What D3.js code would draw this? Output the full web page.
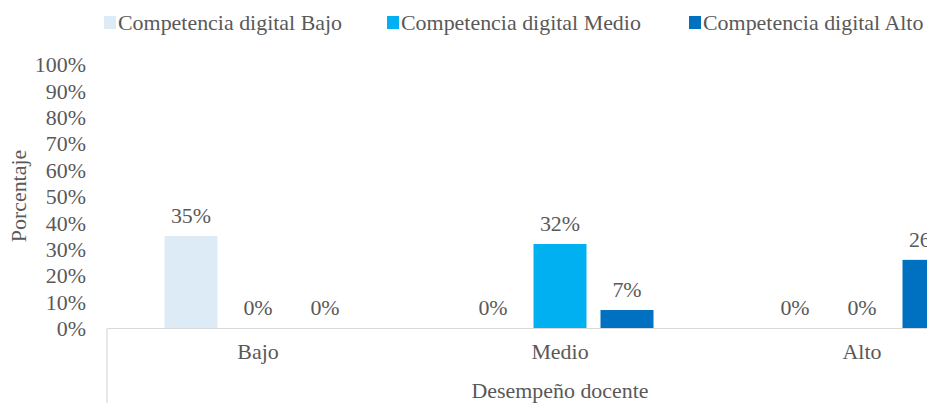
<!DOCTYPE html>
<html>
<head>
<meta charset="utf-8">
<script src="https://cdn.jsdelivr.net/npm/d3@7"></script>
<style>
  html, body { margin: 0; padding: 0; background: #fff; overflow: hidden; }
  svg text { font-family: "Liberation Serif", "DejaVu Serif", serif; }
</style>
</head>
<body>
<svg id="chart" width="927" height="403"></svg>
<script>
// Performance levels (x-axis categories)
const categories = ["Bajo", "Medio", "Alto"];
// Digital competence series
const seriesNames = ["Competencia digital Bajo", "Competencia digital Medio", "Competencia digital Alto"];
const seriesColors = ["#DDEBF7", "#00B0F0", "#0070C0"];
// Percentages per series, indexed by category
const valuesBajo = [35, 0, 0];
const valuesMedio = [0, 32, 0];
const valuesAlto = [0, 7, 26];
const yTicks = [0, 10, 20, 30, 40, 50, 60, 70, 80, 90, 100];

const seriesValues = [valuesBajo, valuesMedio, valuesAlto];
const textColor = "#595959";
const fontSize = 20.5;
const stretch = 1.07;   // slightly wide type, as in the original export
const serif = "'Liberation Serif', 'DejaVu Serif', serif";

const svg = d3.select("#chart");

// Places a text element at (x, y) with the horizontal stretch applied
function label(parent, x, y, str, anchor) {
  return parent.append("text")
    .attr("transform", `translate(${x},${y}) scale(${stretch},1)`)
    .attr("dy", "0.35em")
    .attr("text-anchor", anchor || "middle")
    .attr("fill", textColor)
    .attr("font-family", serif)
    .attr("font-size", fontSize)
    .text(str);
}

const x0 = d3.scaleBand().domain(categories).range([107, 1013]).padding(0);
const x1 = d3.scaleBand().domain(seriesNames).range([-93.5, 93.5]).paddingInner(14 / 67).paddingOuter(0);
const y = d3.scaleLinear().domain([0, 100]).range([328.5, 64.5]);

// Y tick labels
const yAxis = d3.axisLeft(y).tickValues(yTicks).tickFormat(d => d + "%").tickSize(0).tickPadding(0);
const gy = svg.append("g").attr("transform", "translate(86,0)").call(yAxis)
  .attr("font-family", serif).attr("font-size", fontSize);
gy.select(".domain").remove();
gy.selectAll("text")
  .attr("fill", textColor)
  .attr("x", null)
  .attr("dy", "0.35em")
  .attr("transform", `scale(${stretch},1)`);

// Bars
const cells = (c, ci) => seriesNames.map((s, si) => ({ s, si, v: seriesValues[si][ci] }));
const groups = svg.append("g").selectAll("g")
  .data(categories)
  .join("g")
  .attr("transform", d => `translate(${x0(d) + x0.bandwidth() / 2},0)`);

groups.selectAll("rect")
  .data(cells)
  .join("rect")
  .attr("x", d => x1(d.s))
  .attr("width", x1.bandwidth())
  .attr("y", d => y(d.v))
  .attr("height", d => y(0) - y(d.v))
  .attr("fill", d => seriesColors[d.si]);

// Value labels
groups.each(function (c, ci) {
  const g = d3.select(this);
  cells(c, ci).forEach(d => {
    label(g, x1(d.s) + x1.bandwidth() / 2, y(d.v) - 20.5, d.v + "%");
  });
});

// Category axis line and separator
svg.append("line")
  .attr("x1", x0.range()[0]).attr("x2", x0.range()[1])
  .attr("y1", y(0)).attr("y2", y(0))
  .attr("stroke", "#D9D9D9").attr("stroke-width", 1.2);
svg.append("line")
  .attr("x1", x0.range()[0]).attr("x2", x0.range()[0])
  .attr("y1", y(0)).attr("y2", 403)
  .attr("stroke", "#D9D9D9").attr("stroke-width", 1.2);

// Category labels
const gc = svg.append("g");
categories.forEach(c => label(gc, x0(c) + x0.bandwidth() / 2, 352, c));

// Axis titles
label(svg, 560, 390.5, "Desempeño docente");
svg.append("text")
  .attr("transform", `translate(19,196) rotate(-90) scale(${stretch},1)`)
  .attr("dy", "0.35em")
  .attr("text-anchor", "middle")
  .attr("fill", textColor).attr("font-family", serif).attr("font-size", fontSize)
  .text("Porcentaje");

// Legend
const legendX = [104, 387, 689];
const legend = svg.append("g");
seriesNames.forEach((name, i) => {
  legend.append("rect")
    .attr("x", legendX[i]).attr("y", 16).attr("width", 12).attr("height", 13)
    .attr("fill", seriesColors[i]);
  label(legend, legendX[i] + 14, 22.5, name, "start");
});
</script>
</body>
</html>
